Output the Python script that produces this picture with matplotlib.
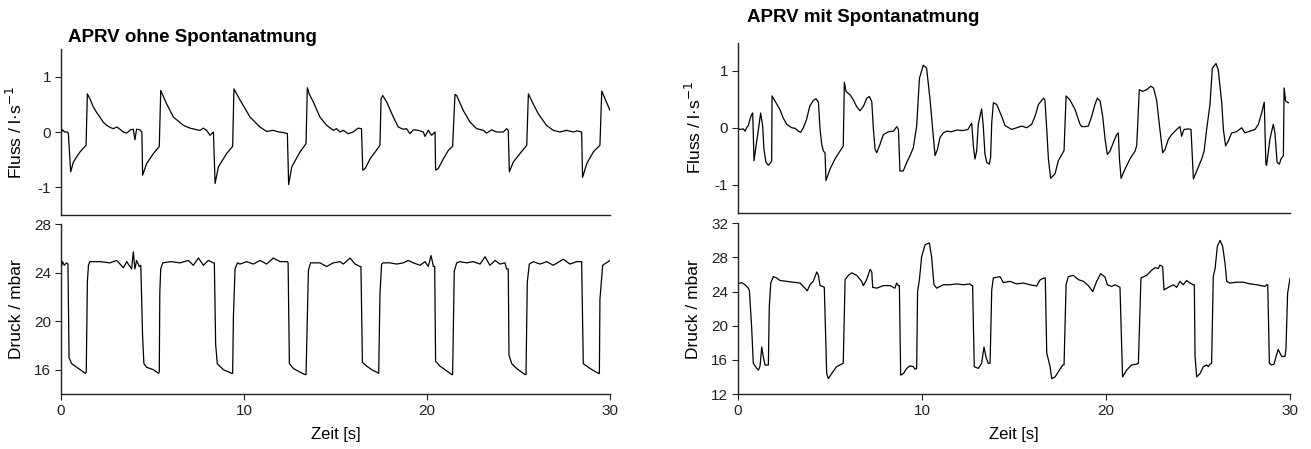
import matplotlib
matplotlib.use("Agg")
import matplotlib.pyplot as plt

plt.rcParams['font.family'] = ['Liberation Sans', 'DejaVu Sans']

# ---------------- data: APRV ohne Spontanatmung ----------------
left_flow_t = [0.00, 0.08, 0.20, 0.35, 0.40, 0.53, 0.67, 0.85, 1.04, 1.20, 1.37, 1.44, 1.58, 1.77, 1.95,
               2.13, 2.30, 2.50, 2.70, 2.86, 3.05, 3.22, 3.40, 3.59, 3.80, 3.95, 4.04, 4.13, 4.31, 4.42,
               4.46, 4.68, 5.05, 5.37, 5.45, 5.77, 6.14, 6.69, 7.05, 7.42, 7.60, 7.78, 7.96, 8.14, 8.33,
               8.42, 8.60, 9.05, 9.38, 9.45, 9.78, 10.33, 10.87, 11.24, 11.60, 11.90, 12.15, 12.37,
               12.44, 12.61, 13.06, 13.39, 13.46, 13.56, 13.79, 14.15, 14.52, 14.88, 15.06, 15.24, 15.42,
               15.69, 15.96, 16.24, 16.42, 16.49, 16.62, 16.90, 17.17, 17.43, 17.49, 17.58, 17.80, 18.16,
               18.43, 18.70, 18.88, 19.07, 19.25, 19.53, 19.80, 19.89, 20.07, 20.25, 20.44, 20.47, 20.62,
               20.90, 21.17, 21.40, 21.53, 21.62, 21.98, 22.35, 22.71, 23.08, 23.26, 23.53, 23.80, 24.17,
               24.35, 24.44, 24.50, 24.72, 25.08, 25.45, 25.54, 25.80, 26.08, 26.53, 26.90, 27.26, 27.63,
               28.00, 28.20, 28.45, 28.50, 28.73, 29.09, 29.45, 29.55, 30.00]
left_flow_v = [-0.03, 0.04, 0.00, 0.00, -0.02, -0.72, -0.55, -0.45, -0.36, -0.30, -0.24, 0.69, 0.60, 0.45, 0.35,
               0.27, 0.18, 0.12, 0.08, 0.06, 0.09, 0.05, 0.00, -0.02, 0.04, 0.05, -0.14, 0.05, 0.04, 0.00,
               -0.78, -0.57, -0.39, -0.26, 0.75, 0.51, 0.27, 0.12, 0.07, 0.04, 0.03, 0.07, 0.03, -0.06, 0.00,
               -0.93, -0.63, -0.39, -0.26, 0.78, 0.58, 0.27, 0.09, 0.01, 0.03, 0.00, -0.01, -0.03,
               -0.95, -0.63, -0.36, -0.21, 0.80, 0.69, 0.54, 0.27, 0.12, 0.03, 0.06, 0.00, 0.03,
               -0.03, 0.00, 0.07, 0.06, -0.69, -0.66, -0.48, -0.36, -0.24, 0.60, 0.66, 0.54, 0.27,
               0.09, 0.05, 0.06, -0.03, 0.04, 0.03, 0.00, -0.08, 0.03, -0.06, 0.00, -0.69, -0.66,
               -0.48, -0.33, -0.26, 0.68, 0.66, 0.39, 0.18, 0.06, 0.03, -0.02, 0.04, 0.00, 0.00,
               0.06, 0.03, -0.72, -0.54, -0.39, -0.24, 0.69, 0.51, 0.33, 0.12, 0.03, 0.00, 0.03,
               0.00, 0.02, 0.00, -0.82, -0.57, -0.36, -0.24, 0.74, 0.39]

left_press_t = [0.00, 0.08, 0.18, 0.30, 0.38, 0.44, 0.58, 0.86, 1.13, 1.33, 1.38, 1.44, 1.50, 1.58,
                2.13, 2.68, 3.04, 3.41, 3.59, 3.86, 3.95, 4.04, 4.13, 4.28, 4.36, 4.46, 4.53, 4.68,
                5.05, 5.32, 5.37, 5.40, 5.45, 5.56, 6.00, 6.50, 6.96, 7.23, 7.51, 7.78, 8.05, 8.33,
                8.38, 8.45, 8.54, 8.87, 9.33, 9.38, 9.42, 9.51, 9.64, 9.78, 10.15, 10.51, 10.88,
                11.24, 11.60, 11.97, 12.37, 12.41, 12.48, 12.70, 13.06, 13.33, 13.39, 13.52, 13.64,
                14.15, 14.52, 14.88, 15.25, 15.43, 15.79, 16.07, 16.34, 16.39, 16.47, 16.70, 16.98,
                17.25, 17.36, 17.43, 17.52, 17.61, 17.98, 18.34, 18.71, 18.98, 19.25, 19.62, 19.89,
                20.07, 20.22, 20.35, 20.42, 20.47, 20.71, 21.08, 21.35, 21.40, 21.49, 21.62, 21.80,
                22.17, 22.53, 22.90, 23.17, 23.44, 23.72, 23.99, 24.26, 24.35, 24.44, 24.48, 24.63,
                24.90, 25.36, 25.41, 25.48, 25.59, 25.81, 26.17, 26.54, 26.90, 27.45, 27.81, 28.18,
                28.45, 28.54, 28.91, 29.36, 29.42, 29.45, 29.60, 30.00]
left_press_v = [24.3, 24.9, 24.6, 24.8, 24.7, 17.0, 16.5, 16.2, 15.9, 15.7, 15.8, 23.2, 24.6, 24.9,
                24.9, 24.8, 25.0, 24.4, 24.9, 24.3, 25.7, 24.3, 25.0, 24.5, 24.6, 18.7, 16.5, 16.2,
                16.0, 15.7, 15.8, 22.4, 24.3, 24.8, 24.9, 24.8, 25.0, 24.6, 25.2, 24.6, 25.0, 24.8,
                24.8, 18.1, 16.5, 16.0, 15.7, 15.7, 20.3, 24.3, 24.8, 24.7, 24.9, 24.7, 25.0,
                24.7, 25.2, 24.9, 24.9, 24.8, 16.5, 16.1, 15.8, 15.6, 15.6, 24.2, 24.8,
                24.8, 24.5, 24.8, 24.9, 24.7, 25.2, 24.7, 24.5, 24.5, 16.6, 16.3, 16.0,
                15.8, 15.7, 22.3, 24.7, 24.8, 24.8, 24.7, 24.8, 25.0, 24.8, 24.6, 24.9,
                24.5, 25.4, 24.5, 24.5, 16.7, 16.3, 15.9, 15.6, 15.6, 24.1, 24.8, 24.9,
                24.8, 24.9, 24.7, 25.3, 24.6, 25.0, 24.7, 24.8, 24.3, 24.3, 17.2, 16.5,
                16.1, 15.6, 15.6, 23.2, 24.7, 24.9, 24.7, 24.9, 24.6, 25.1, 24.7, 24.9,
                24.9, 16.5, 16.1, 15.7, 15.7, 21.8, 24.6, 25.0]

# ---------------- data: APRV mit Spontanatmung ----------------
right_flow_t = [0.00, 0.11, 0.29, 0.38, 0.47, 0.56, 0.65, 0.74, 0.80, 0.87, 0.98, 1.11, 1.23, 1.34, 1.41,
                1.52, 1.65, 1.78, 1.83, 1.85, 2.01, 2.28, 2.46, 2.65, 2.92, 3.10, 3.28, 3.41, 3.55, 3.73,
                3.90, 4.09, 4.24, 4.37, 4.46, 4.55, 4.64, 4.73, 4.78, 5.00, 5.27, 5.54, 5.72, 5.78, 5.87,
                6.09, 6.27, 6.45, 6.63, 6.82, 7.00, 7.14, 7.27, 7.36, 7.45, 7.54, 7.72, 7.90, 8.18, 8.45,
                8.63, 8.72, 8.80, 8.98, 9.17, 9.35, 9.53, 9.71, 9.86, 10.07, 10.25, 10.44, 10.58, 10.71,
                10.84, 10.98, 11.16, 11.34, 11.60, 11.90, 12.20, 12.50, 12.60, 12.70, 12.80, 12.88, 12.97,
                13.06, 13.15, 13.24, 13.33, 13.42, 13.52, 13.66, 13.73, 13.79, 13.88, 14.06, 14.33, 14.51,
                14.87, 15.15, 15.42, 15.69, 15.96, 16.14, 16.33, 16.60, 16.68, 16.78, 16.87, 16.99, 17.23,
                17.41, 17.65, 17.72, 17.83, 18.04, 18.32, 18.50, 18.59, 18.68, 18.86, 19.04, 19.22, 19.40,
                19.53, 19.68, 19.82, 19.95, 20.07, 20.22, 20.40, 20.58, 20.67, 20.73, 20.82, 21.03, 21.30,
                21.58, 21.67, 21.81, 21.99, 22.21, 22.43, 22.58, 22.75, 22.93, 23.08, 23.21, 23.39, 23.57,
                23.84, 24.02, 24.11, 24.24, 24.47, 24.62, 24.75, 24.93, 25.20, 25.33, 25.47, 25.65, 25.78,
                25.98, 26.10, 26.29, 26.38, 26.50, 26.65, 26.83, 27.10, 27.37, 27.55, 27.83, 28.10, 28.28,
                28.46, 28.60, 28.69, 28.73, 28.91, 29.09, 29.18, 29.30, 29.42, 29.51, 29.64, 29.68, 29.76,
                29.91]
right_flow_v = [-0.02, -0.03, -0.02, -0.06, 0.00, 0.04, 0.15, 0.23, 0.26, -0.58, -0.32, -0.03, 0.26, 0.03, -0.38,
                -0.61, -0.66, -0.61, -0.58, 0.56, 0.47, 0.32, 0.17, 0.06, 0.00, -0.01, -0.06, -0.08, 0.00, 0.15,
                0.38, 0.48, 0.51, 0.45, -0.03, -0.29, -0.41, -0.44, -0.93, -0.73, -0.55, -0.41, -0.32, 0.80, 0.64,
                0.58, 0.49, 0.37, 0.30, 0.38, 0.52, 0.55, 0.46, -0.03, -0.38, -0.44, -0.29, -0.12, -0.07, -0.06,
                0.02, -0.03, -0.76, -0.76, -0.61, -0.49, -0.35, 0.03, 0.87, 1.10, 1.05, 0.49, -0.03, -0.49,
                -0.38, -0.17, -0.09, -0.06, -0.07, -0.04, -0.05, -0.03, 0.03, 0.08, -0.35, -0.55, -0.41,
                0.06, 0.20, 0.33, 0.03, -0.46, -0.61, -0.64, -0.52, 0.09, 0.44, 0.41, 0.20, 0.04,
                -0.03, 0.00, 0.03, 0.00, 0.06, 0.20, 0.41, 0.52, 0.49, -0.03, -0.55, -0.89, -0.81,
                -0.58, -0.44, -0.40, 0.56, 0.49, 0.32, 0.15, 0.06, 0.02, 0.02, 0.03, 0.20, 0.41,
                0.52, 0.47, 0.20, -0.20, -0.47, -0.41, -0.26, -0.12, -0.09, -0.55, -0.89, -0.73, -0.55,
                -0.41, -0.31, 0.67, 0.64, 0.67, 0.73, 0.70, 0.49, -0.03, -0.44, -0.38, -0.20, -0.12,
                -0.03, 0.02, -0.15, -0.03, -0.02, -0.03, -0.90, -0.76, -0.55, -0.41, -0.03, 0.41, 1.05,
                1.13, 1.02, 0.44, -0.03, -0.32, -0.23, -0.09, -0.07, 0.00, -0.09, -0.06, -0.03, 0.06,
                0.26, 0.45, -0.64, -0.66, -0.20, 0.06, -0.09, -0.61, -0.64, -0.55, -0.49, 0.70, 0.47,
                0.44]

right_press_t = [0.00, 0.20, 0.38, 0.56, 0.62, 0.74, 0.83, 0.92, 1.02, 1.11, 1.20, 1.29, 1.38, 1.47, 1.60,
                 1.65, 1.70, 1.78, 1.92, 2.10, 2.28, 2.65, 3.01, 3.37, 3.64, 3.77, 3.91, 4.09, 4.28, 4.37,
                 4.46, 4.60, 4.69, 4.77, 4.82, 4.91, 5.09, 5.36, 5.63, 5.72, 5.82, 6.00, 6.18, 6.45, 6.72,
                 6.81, 6.99, 7.18, 7.27, 7.32, 7.54, 7.90, 8.26, 8.53, 8.62, 8.71, 8.77, 8.84, 8.99, 9.17,
                 9.35, 9.53, 9.62, 9.71, 9.76, 9.86, 9.98, 10.17, 10.40, 10.52, 10.65, 10.80, 11.16, 11.52,
                 11.88, 12.25, 12.61, 12.70, 12.75, 12.84, 13.06, 13.24, 13.37, 13.48, 13.60, 13.70, 13.79,
                 13.88, 14.24, 14.42, 14.78, 15.14, 15.51, 15.87, 16.23, 16.41, 16.63, 16.70, 16.78, 16.96,
                 17.05, 17.23, 17.41, 17.65, 17.72, 17.83, 17.95, 18.22, 18.50, 18.77, 19.04, 19.28, 19.49,
                 19.71, 19.95, 20.07, 20.31, 20.49, 20.67, 20.76, 20.90, 21.12, 21.39, 21.67, 21.76, 21.90,
                 22.21, 22.48, 22.66, 22.84, 22.93, 23.02, 23.08, 23.15, 23.39, 23.66, 23.84, 24.02, 24.20,
                 24.38, 24.57, 24.75, 24.80, 24.84, 24.93, 25.11, 25.29, 25.47, 25.56, 25.65, 25.74, 25.83,
                 25.93, 26.05, 26.20, 26.34, 26.47, 26.56, 26.74, 27.10, 27.46, 27.83, 28.19, 28.64, 28.73,
                 28.79, 28.88, 29.00, 29.13, 29.27, 29.36, 29.55, 29.73, 29.78, 29.87, 30.00]
right_press_v = [24.9, 25.05, 24.8, 24.4, 24.1, 19.9, 15.6, 15.3, 15.0, 14.8, 15.3, 17.5, 16.3, 15.4, 15.4,
                 15.4, 22.2, 25.0, 25.75, 25.6, 25.3, 25.2, 25.1, 25.0, 24.4, 24.1, 24.8, 25.2, 26.3, 25.9,
                 24.7, 24.6, 24.5, 18.3, 14.4, 13.8, 14.4, 15.2, 15.5, 15.6, 25.4, 25.9, 26.2, 25.9, 25.2,
                 24.7, 25.4, 26.6, 26.3, 24.5, 24.4, 24.7, 24.7, 24.4, 25.0, 24.7, 24.7, 14.2, 14.4, 15.0,
                 15.3, 15.2, 14.9, 15.0, 24.0, 25.4, 28.1, 29.5, 29.7, 28.1, 24.8, 24.4, 24.8, 24.8,
                 24.9, 24.8, 24.9, 24.7, 24.7, 15.2, 15.0, 15.6, 17.5, 16.3, 15.6, 15.6, 24.2,
                 25.6, 25.75, 25.05, 25.2, 24.9, 25.0, 24.8, 24.65, 25.35, 25.6, 25.6, 16.8, 15.2,
                 13.8, 14.0, 14.6, 15.4, 15.4, 24.8, 25.75, 25.9, 25.4, 25.2, 24.7, 24.0, 25.2,
                 26.1, 25.7, 24.8, 24.6, 24.8, 24.6, 24.5, 14.0, 14.8, 15.4, 15.5, 15.6, 25.6,
                 25.9, 26.5, 26.8, 26.7, 27.1, 27.0, 26.9, 24.2, 24.5, 24.8, 24.5, 25.2, 24.8,
                 25.3, 25.0, 24.8, 24.8, 16.4, 14.0, 14.4, 15.2, 15.4, 15.2, 15.5, 15.6, 25.75,
                 26.7, 29.3, 30.0, 29.3, 27.3, 25.2, 25.0, 25.1, 25.1, 24.9, 24.8, 24.6, 24.8,
                 24.8, 15.6, 15.4, 15.5, 16.6, 17.2, 16.4, 16.4, 17.2, 23.8, 25.55]

titles = ["APRV ohne Spontanatmung", "APRV mit Spontanatmung"]
flow_label = "Fluss / l\u00b7s$^{-1}$"
press_label = "Druck / mbar"
x_label = "Zeit [s]"
time_ticks = [0, 10, 20, 30]
flow_ticks = [-1, 0, 1]
left_press_ticks = [16, 20, 24, 28]
right_press_ticks = [12, 16, 20, 24, 28, 32]

# ---------------- figure ----------------
W, H = 1311, 449
fig = plt.figure(figsize=(W / 100, H / 100), dpi=100)


def rect(x0, x1, ytop, ybot):
    return [x0 / W, 1 - ybot / H, (x1 - x0) / W, (ybot - ytop) / H]


ax_lf = fig.add_axes(rect(61, 610, 49, 215))
ax_lp = fig.add_axes(rect(61, 610, 224, 394))
ax_rf = fig.add_axes(rect(738, 1290, 42.5, 213))
ax_rp = fig.add_axes(rect(738, 1290, 223.3, 394))

lw = 0.9
ax_lf.plot(left_flow_t, left_flow_v, color='black', lw=lw)
ax_lp.plot(left_press_t, left_press_v, color='black', lw=lw)
ax_rf.plot(right_flow_t, right_flow_v, color='black', lw=lw)
ax_rp.plot(right_press_t, right_press_v, color='black', lw=lw)

for ax in (ax_lf, ax_lp, ax_rf, ax_rp):
    ax.set_xlim(0, 30)
    ax.spines['top'].set_visible(False)
    ax.spines['right'].set_visible(False)
    for s in ('left', 'bottom'):
        ax.spines[s].set_linewidth(1.0)
        ax.spines[s].set_color('#222222')
    ax.tick_params(direction='out', length=4, width=0.8, labelsize=11, colors='#222222', pad=3)

for ax in (ax_lf, ax_rf):
    ax.set_ylim(-1.5, 1.5)
    ax.set_yticks(flow_ticks)
    ax.set_yticklabels([str(v) for v in flow_ticks])
    ax.set_xticks([])
    ax.set_ylabel(flow_label, fontsize=12.5)

ax_lp.set_ylim(14, 28)
ax_lp.set_yticks(left_press_ticks)
ax_rp.set_ylim(12, 32)
ax_rp.set_yticks(right_press_ticks)

for ax in (ax_lp, ax_rp):
    ax.set_xticks(time_ticks)
    ax.set_ylabel(press_label, fontsize=12.5)
    ax.set_xlabel(x_label, fontsize=12, labelpad=7)

ax_lf.yaxis.set_label_coords(-0.066, 0.5)
ax_lp.yaxis.set_label_coords(-0.067, 0.5)
ax_rf.yaxis.set_label_coords(-0.062, 0.5)
ax_rp.yaxis.set_label_coords(-0.067, 0.5)

fig.text(68 / W, 1 - 37 / H, titles[0], fontsize=13.5, fontweight='bold', va='center', ha='left')
fig.text(747 / W, 1 - 17 / H, titles[1], fontsize=13.5, fontweight='bold', va='center', ha='left')

fig.savefig("out.png", dpi=100)
